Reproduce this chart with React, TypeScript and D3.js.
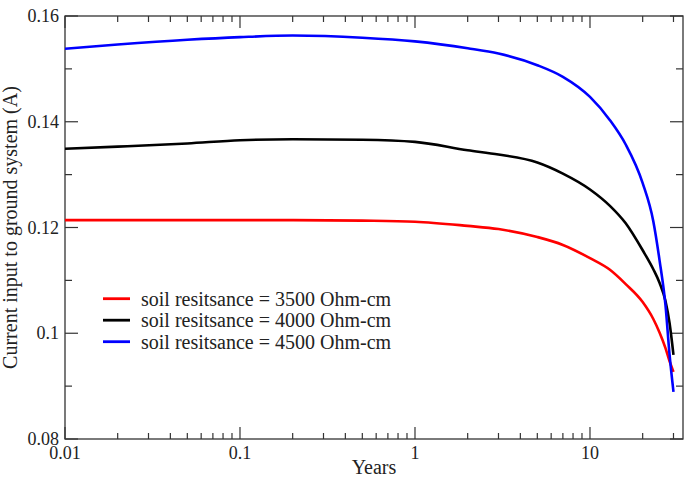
import React from "react";
import * as d3 from "d3";

const years = [0.01, 0.02, 0.05, 0.1, 0.2, 0.5, 1, 2, 3, 5, 7, 10, 13, 16, 20, 23, 25, 27, 28.5, 30];
const current3500 = [0.1214, 0.1214, 0.1214, 0.1214, 0.1214, 0.1213, 0.1211, 0.1203, 0.1197, 0.1182, 0.1167, 0.1142, 0.112, 0.1093, 0.1059, 0.1027, 0.1001, 0.0972, 0.0947, 0.0927];
const current4000 = [0.1349, 0.1353, 0.1359, 0.1365, 0.1367, 0.1366, 0.1362, 0.1346, 0.1338, 0.1323, 0.1302, 0.1272, 0.1241, 0.1208, 0.1157, 0.1121, 0.1095, 0.1061, 0.1019, 0.0959];
const current4500 = [0.1538, 0.1546, 0.1555, 0.156, 0.1563, 0.1559, 0.1552, 0.1539, 0.1529, 0.1507, 0.1485, 0.1447, 0.1403, 0.1357, 0.1284, 0.1212, 0.1137, 0.1053, 0.0959, 0.0889];

const seriesNames = ["soil resitsance = 3500 Ohm-cm", "soil resitsance = 4000 Ohm-cm", "soil resitsance = 4500 Ohm-cm"];
const seriesColors = ["#ff0000", "#000000", "#0000ff"];
const seriesValues = [current3500, current4000, current4500];

const xMajorTicks = [0.01, 0.1, 1, 10];
const xTickLabels = ["0.01", "0.1", "1", "10"];
const yMajorTicks = [0.08, 0.1, 0.12, 0.14, 0.16];
const yTickLabels = ["0.08", "0.1", "0.12", "0.14", "0.16"];
const yMinorTicks = [0.09, 0.11, 0.13, 0.15];

const xDomain = [0.01, 34];
const yDomain = [0.08, 0.16];

const W = 685;
const H = 479;
const L = 65, R = 683, T = 16, B = 439;

export default function App() {
  const x = d3.scaleLog().domain(xDomain).range([L, R]);
  const y = d3.scaleLinear().domain(yDomain).range([B, T]);

  const xMinor: number[] = [];
  for (const dec of [0.01, 0.1, 1, 10]) {
    for (let k = 2; k <= 9; k++) {
      const v = dec * k;
      if (v <= xDomain[1]) xMinor.push(v);
    }
  }

  const line = d3
    .line<number>()
    .x((_, i) => x(years[i]))
    .y((d) => y(d))
    .curve(d3.curveMonotoneX);

  const font = "'Liberation Serif', 'Times New Roman', serif";
  const axisColor = "#333";

  return (
    <svg width={W} height={H} style={{ position: "absolute", left: 0, top: 0, background: "#fff" }}>
      <rect x={0} y={0} width={W} height={H} fill="#fff" />
      <defs>
        <clipPath id="plotclip">
          <rect x={L} y={T} width={R - L} height={B - T} />
        </clipPath>
      </defs>
      <rect x={L} y={T} width={R - L} height={B - T} fill="none" stroke={axisColor} strokeWidth={1.3} />
      {xMajorTicks.map((t, i) => (
        <g key={"xm" + i}>
          <line x1={x(t)} x2={x(t)} y1={B} y2={B - 12} stroke={axisColor} strokeWidth={1.2} />
          <line x1={x(t)} x2={x(t)} y1={T} y2={T + 12} stroke={axisColor} strokeWidth={1.2} />
          <text x={x(t)} y={459} textAnchor="middle" fontFamily={font} fontSize={18} fill="#222">
            {xTickLabels[i]}
          </text>
        </g>
      ))}
      {xMinor.map((t, i) => (
        <g key={"xn" + i}>
          <line x1={x(t)} x2={x(t)} y1={B} y2={B - 6} stroke={axisColor} strokeWidth={1.2} />
          <line x1={x(t)} x2={x(t)} y1={T} y2={T + 6} stroke={axisColor} strokeWidth={1.2} />
        </g>
      ))}
      {yMajorTicks.map((t, i) => (
        <g key={"ym" + i}>
          <line x1={L} x2={L + 13} y1={y(t)} y2={y(t)} stroke={axisColor} strokeWidth={1.2} />
          <line x1={R} x2={R - 13} y1={y(t)} y2={y(t)} stroke={axisColor} strokeWidth={1.2} />
          <text x={59} y={y(t) + 6} textAnchor="end" fontFamily={font} fontSize={18} fill="#222">
            {yTickLabels[i]}
          </text>
        </g>
      ))}
      {yMinorTicks.map((t, i) => (
        <g key={"yn" + i}>
          <line x1={L} x2={L + 7} y1={y(t)} y2={y(t)} stroke={axisColor} strokeWidth={1.2} />
          <line x1={R} x2={R - 7} y1={y(t)} y2={y(t)} stroke={axisColor} strokeWidth={1.2} />
        </g>
      ))}
      <g clipPath="url(#plotclip)">
        {seriesValues.map((vals, i) => (
          <path key={"s" + i} d={line(vals) || ""} fill="none" stroke={seriesColors[i]} strokeWidth={2.6} />
        ))}
      </g>
      {seriesNames.map((name, i) => (
        <g key={"lg" + i}>
          <line x1={103} x2={130} y1={298.7 + i * 21.5} y2={298.7 + i * 21.5} stroke={seriesColors[i]} strokeWidth={2.8} />
          <text x={141} y={305.5 + i * 21.5} fontFamily={font} fontSize={20} fill="#222">
            {name}
          </text>
        </g>
      ))}
      <text x={(L + R) / 2} y={474} textAnchor="middle" fontFamily={font} fontSize={20} fill="#222">
        Years
      </text>
      <text
        transform={`translate(17, ${(T + B) / 2}) rotate(-90)`}
        textAnchor="middle"
        fontFamily={font}
        fontSize={20}
        fill="#222"
      >
        Current input to ground system (A)
      </text>
    </svg>
  );
}
